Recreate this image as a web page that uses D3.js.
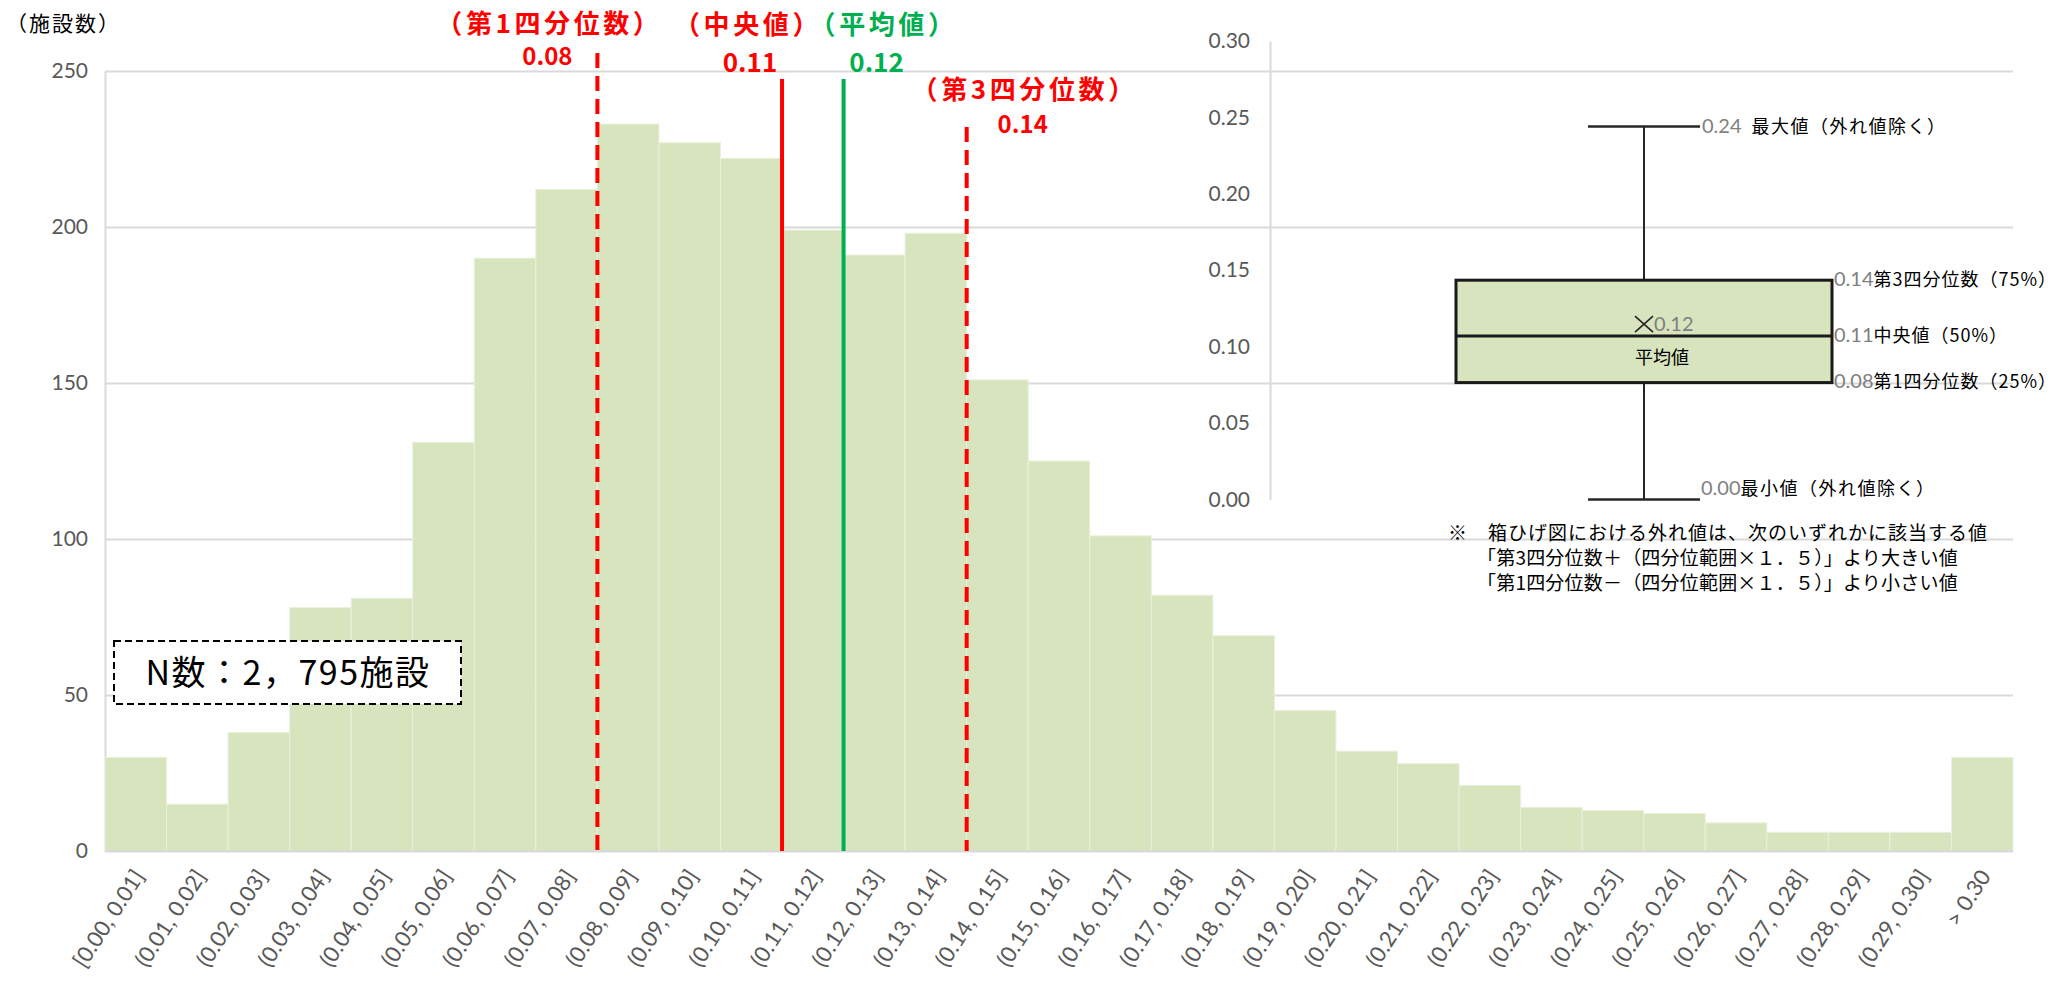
<!DOCTYPE html>
<html><head><meta charset="utf-8">
<script src="https://cdn.jsdelivr.net/npm/d3@7"></script>
<style>body{margin:0;background:#fff;} svg{display:block;}</style>
</head><body>
<svg id="chart" width="2059" height="984"></svg>
<script>
// ---------- data ----------
const categories = ["[0.00, 0.01]", "(0.01, 0.02]", "(0.02, 0.03]", "(0.03, 0.04]", "(0.04, 0.05]",
  "(0.05, 0.06]", "(0.06, 0.07]", "(0.07, 0.08]", "(0.08, 0.09]", "(0.09, 0.10]", "(0.10, 0.11]",
  "(0.11, 0.12]", "(0.12, 0.13]", "(0.13, 0.14]", "(0.14, 0.15]", "(0.15, 0.16]", "(0.16, 0.17]",
  "(0.17, 0.18]", "(0.18, 0.19]", "(0.19, 0.20]", "(0.20, 0.21]", "(0.21, 0.22]", "(0.22, 0.23]",
  "(0.23, 0.24]", "(0.24, 0.25]", "(0.25, 0.26]", "(0.26, 0.27]", "(0.27, 0.28]", "(0.28, 0.29]",
  "(0.29, 0.30]", "> 0.30"];
const counts = [30, 15, 38, 78, 81, 131, 190, 212, 233, 227, 222, 199, 191, 198, 151, 125, 101,
  82, 69, 45, 32, 28, 21, 14, 13, 12, 9, 6, 6, 6, 30];
const countTicks = [0, 50, 100, 150, 200, 250];
const yAxisTitle = "（施設数）";
const sampleNote = "N数：2，795施設";

const markerNames = ["（第1四分位数）", "（中央値）", "（平均値）", "（第3四分位数）"];
const markerValues = [0.08, 0.11, 0.12, 0.14];

const boxTicks = [0, 0.05, 0.10, 0.15, 0.20, 0.25, 0.30];
const boxStatNames = ["最小値（外れ値除く）", "第1四分位数（25%）", "中央値（50%）", "平均値", "第3四分位数（75%）", "最大値（外れ値除く）"];
const boxStatValues = [0.00, 0.0765, 0.107, 0.116, 0.1435, 0.244];
const noteLines = ["※　箱ひげ図における外れ値は、次のいずれかに該当する値",
  "「第3四分位数＋（四分位範囲×１．５）」より大きい値",
  "「第1四分位数－（四分位範囲×１．５）」より小さい値"];

// ---------- drawing ----------
(function () {
const svg = d3.select("#chart");
const JP = "'Noto Sans CJK JP', sans-serif";
const NUM = "Lato, 'Noto Sans', sans-serif";
const GRID = "#d9d9d9";
const BAR = "#d7e4bd";
const RED = "#ff0000", GREEN = "#00b050";
const f2 = d3.format(".2f");

const pLeft = 105, pRight = 2013, pTop = 71, pBottom = 851;
const x = d3.scaleBand().domain(categories).range([pLeft, pRight]).padding(0);
const xv = d3.scaleLinear().domain([0, categories.length / 100]).range([pLeft, pRight]);
const y = d3.scaleLinear().domain([0, 250]).range([pBottom, pTop]);

// gridlines
const gGrid = svg.append("g").attr("transform", `translate(${pLeft},0)`)
  .call(d3.axisLeft(y).tickValues(countTicks).tickSize(-(pRight - pLeft)).tickFormat(""));
gGrid.select(".domain").remove();
gGrid.selectAll(".tick line").attr("stroke", GRID).attr("stroke-width", 2);

// y axis labels
const gY = svg.append("g").attr("transform", `translate(${pLeft},0)`)
  .call(d3.axisLeft(y).tickValues(countTicks).tickSize(0).tickPadding(17));
gY.select(".domain").attr("stroke", GRID).attr("stroke-width", 2);
gY.selectAll("text").attr("font-family", NUM).attr("font-size", 21).attr("fill", "#595959");

// bars
svg.append("g").selectAll("rect").data(counts).join("rect")
  .attr("x", (d, i) => x(categories[i]))
  .attr("width", x.bandwidth())
  .attr("y", d => y(d))
  .attr("height", d => y(0) - y(d))
  .attr("fill", BAR)
  .attr("stroke", "#e9f0dc")
  .attr("stroke-width", 1);

// baseline
svg.append("line").attr("x1", pLeft).attr("x2", pRight).attr("y1", y(0)).attr("y2", y(0))
  .attr("stroke", GRID).attr("stroke-width", 2);

// x axis labels
const gX = svg.append("g").attr("transform", `translate(0,${y(0)})`)
  .call(d3.axisBottom(x).tickSize(0).tickPadding(0));
gX.select(".domain").remove();
gX.selectAll("text")
  .attr("y", 0).attr("dy", "0.35em")
  .attr("text-anchor", "end")
  .attr("transform", "translate(3,21) rotate(-57)")
  .attr("font-family", NUM).attr("font-size", 22).attr("fill", "#595959");

// y axis title
svg.append("text").attr("x", 6).attr("y", 24).attr("dy", "0.35em")
  .attr("font-family", JP).attr("font-size", 21).attr("letter-spacing", 2).attr("fill", "#000").text(yAxisTitle);

// marker lines + labels
const markerStyle = [
  {color: RED, dash: "15,8", y1: 53, nameDx: -48, nameY: 24, valDx: -50, valY: 57, valSize: 24},
  {color: RED, dash: null, y1: 79, nameDx: -34, nameY: 25, valDx: -32, valY: 63, valSize: 26},
  {color: GREEN, dash: null, y1: 79, nameDx: 40, nameY: 25, valDx: 33, valY: 63, valSize: 26},
  {color: RED, dash: "15,8", y1: 127, nameDx: 58, nameY: 90, valDx: 56, valY: 125, valSize: 24}
];
const gM = svg.append("g");
markerValues.forEach((v, i) => {
  const s = markerStyle[i];
  const mx = xv(v);
  gM.append("line").attr("x1", mx).attr("x2", mx).attr("y1", s.y1).attr("y2", y(0))
    .attr("stroke", s.color).attr("stroke-width", 4)
    .attr("stroke-dasharray", s.dash);
  gM.append("text").attr("x", mx + s.nameDx).attr("y", s.nameY).attr("dy", "0.35em")
    .attr("text-anchor", "middle").attr("font-family", JP).attr("font-weight", "bold")
    .attr("font-size", 26).attr("letter-spacing", 3.6).attr("fill", s.color).text(markerNames[i]);
  gM.append("text").attr("x", mx + s.valDx).attr("y", s.valY).attr("dy", "0.35em")
    .attr("text-anchor", "middle").attr("font-family", JP).attr("font-weight", "bold")
    .attr("font-size", s.valSize).attr("fill", s.color).text(f2(v));
});

// N box
const gN = svg.append("g");
gN.append("rect").attr("x", 114).attr("y", 641).attr("width", 347).attr("height", 63)
  .attr("fill", "#fff").attr("stroke", "#000").attr("stroke-width", 2).attr("stroke-dasharray", "7,4");
gN.append("text").attr("x", 288).attr("y", 673).attr("dy", "0.35em").attr("text-anchor", "middle")
  .attr("font-family", JP).attr("font-size", 34).attr("letter-spacing", 1.5).attr("fill", "#000").text(sampleNote);

// ---------- box plot ----------
const by = d3.scaleLinear().domain([0, 0.30]).range([499.5, 41]);
const axX = 1270;
const gB = svg.append("g").attr("transform", `translate(${axX},0)`)
  .call(d3.axisLeft(by).tickValues(boxTicks).tickFormat(f2).tickSize(0).tickPadding(20));
gB.select(".domain").attr("stroke", GRID).attr("stroke-width", 2);
gB.selectAll("text").attr("font-family", NUM).attr("font-size", 21).attr("fill", "#595959");

const [vMin, vQ1, vMed, vMean, vQ3, vMax] = boxStatValues;
const cx = 1644, halfBox = 188, halfCap = 56;
const box = svg.append("g");
box.append("line").attr("x1", cx).attr("x2", cx).attr("y1", by(vMax)).attr("y2", by(vMin))
  .attr("stroke", "#262626").attr("stroke-width", 2);
[vMax, vMin].forEach(v => box.append("line").attr("x1", cx - halfCap).attr("x2", cx + halfCap)
  .attr("y1", by(v)).attr("y2", by(v)).attr("stroke", "#262626").attr("stroke-width", 2.5));
box.append("rect").attr("x", cx - halfBox).attr("width", halfBox * 2)
  .attr("y", by(vQ3)).attr("height", by(vQ1) - by(vQ3))
  .attr("fill", BAR).attr("stroke", "#1a1a1a").attr("stroke-width", 3);
box.append("line").attr("x1", cx - halfBox).attr("x2", cx + halfBox)
  .attr("y1", by(vMed)).attr("y2", by(vMed)).attr("stroke", "#1a1a1a").attr("stroke-width", 3);
// mean marker
const my = by(vMean) + 2;
box.append("path").attr("d", `M${cx - 9},${my - 8}L${cx + 9},${my + 8}M${cx - 9},${my + 8}L${cx + 9},${my - 8}`)
  .attr("stroke", "#262626").attr("stroke-width", 1.6).attr("fill", "none");
box.append("text").attr("x", cx + 10).attr("y", my).attr("dy", "0.35em")
  .attr("font-family", NUM).attr("font-size", 20).attr("fill", "#7f7f7f").text(f2(vMean));
box.append("text").attr("x", cx + 18).attr("y", by(vMed) + 22).attr("dy", "0.35em").attr("text-anchor", "middle")
  .attr("font-family", JP).attr("font-size", 18).attr("fill", "#000").text(boxStatNames[3]);

function statLabel(xp, yp, v, name, gap, ls) {
  const t = box.append("text").attr("x", xp).attr("y", yp).attr("dy", "0.35em");
  t.append("tspan").attr("font-family", NUM).attr("font-size", 20).attr("fill", "#7f7f7f").text(f2(v));
  t.append("tspan").attr("dx", gap).attr("font-family", JP).attr("font-size", 18)
    .attr("letter-spacing", ls).attr("fill", "#000").text(name);
}
statLabel(cx + halfBox + 2, by(vQ3), vQ3, boxStatNames[4], 0, 1);
statLabel(cx + halfBox + 2, by(vMed), vMed, boxStatNames[2], 0, 1);
statLabel(cx + halfBox + 2, by(vQ1), vQ1, boxStatNames[1], 0, 1);
statLabel(cx + halfCap + 2, by(vMax) + 1, vMax, boxStatNames[5], 10, 1.5);
statLabel(cx + halfCap + 1, by(vMin) - 10, vMin, boxStatNames[0], 0, 1.5);

// note
const noteX = [1448, 1477, 1477], noteY = [533, 558, 583], noteLS = [1, 0.2, 0.2];
svg.append("g").selectAll("text").data(noteLines).join("text")
  .attr("x", (d, i) => noteX[i]).attr("y", (d, i) => noteY[i]).attr("dy", "0.35em")
  .attr("letter-spacing", (d, i) => noteLS[i])
  .attr("font-family", JP).attr("font-size", 19).attr("fill", "#000").text(d => d);
})();
</script>
</body></html>
